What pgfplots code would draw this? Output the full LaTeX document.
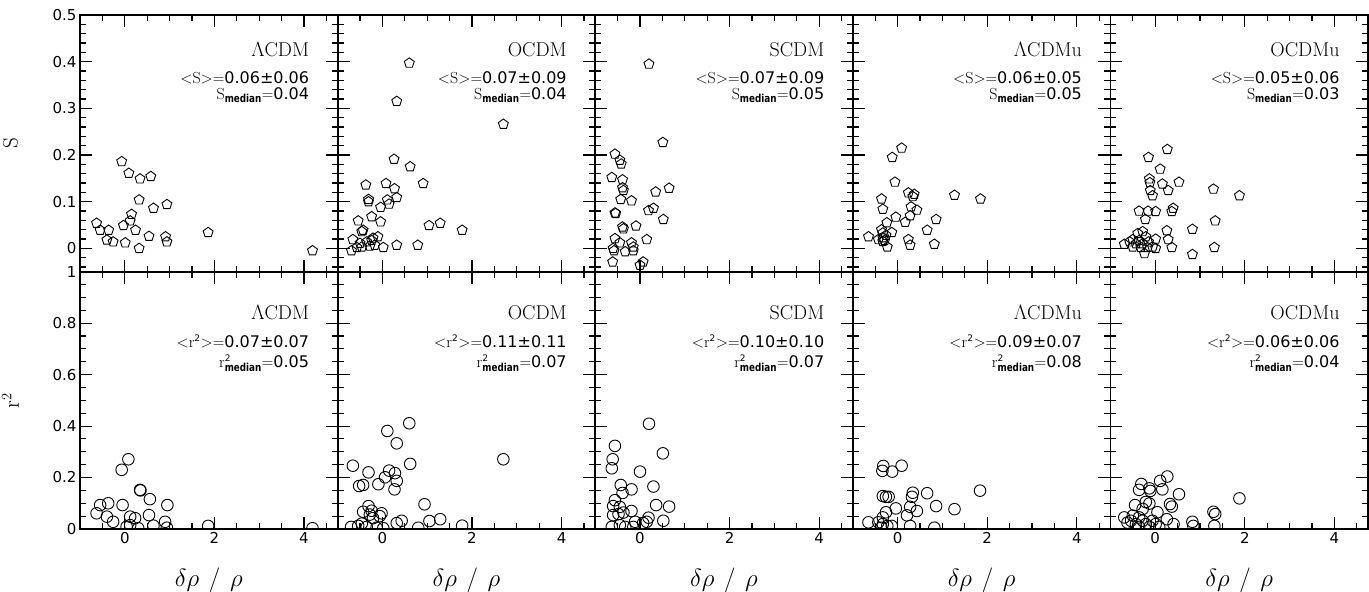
\documentclass[border=0pt]{standalone}
\usepackage{fontspec}
\setsansfont{DejaVu Sans}
\usepackage{graphicx}
\usepackage{pgfplots}
\pgfplotsset{compat=1.18}
\newcommand{\med}{\mbox{\scalebox{0.8}[1]{\sffamily\bfseries\fontsize{11}{11}\selectfont median}}}
\newcommand{\two}{\mbox{\sffamily\fontsize{9}{9}\selectfont 2}}
\pgfplotsset{
 panel/.style={scale only axis, width=257.6pt, anchor=south west,
  xmin=-1, xmax=4.75, xtick={0,2,4},
  minor xtick={-0.5,0.5,1,1.5,2.5,3,3.5,4.5},
  tick align=inside, major tick length=12pt, minor tick length=6pt,
  axis line style={line width=1.8pt},
  every tick/.style={black, line width=1.1pt},
  clip marker paths=true,
  tick label style={font=\sffamily\fontsize{15}{15}\selectfont},
  xticklabels={}, yticklabels={},
  xlabel style={at={(axis description cs:0.5,0)}, anchor=base, yshift=-57.7pt, font=\fontsize{23}{23}\selectfont},
  ylabel style={at={(axis description cs:-0.27,0.5)}, anchor=center},
 },
 toprow/.style={height=256.7pt, ymin=-0.05, ymax=0.5,
  ytick={0,0.1,0.2,0.3,0.4,0.5},
  minor ytick={-0.04,-0.02,0.02,0.04,0.06,0.08,0.12,0.14,0.16,0.18,0.22,0.24,0.26,0.28,0.32,0.34,0.36,0.38,0.42,0.44,0.46,0.48}},
 botrow/.style={height=257.3pt, ymin=0, ymax=1,
  ytick={0,0.2,0.4,0.6,0.8,1},
  minor ytick={0.05,0.1,0.15,0.25,0.3,0.35,0.45,0.5,0.55,0.65,0.7,0.75,0.85,0.9,0.95},
  xticklabels={\textsf{0},\textsf{2},\textsf{4}},
  xlabel={$\delta\rho\mkern7mu/\mkern7mu\rho$}},
 pent/.style={only marks, mark=pentagon, mark size=5.2pt, black, mark options={line width=0.9pt}},
 circ/.style={only marks, mark=o, mark size=5.8pt, black, mark options={line width=0.9pt}},
}
\newcommand{\nm}[1]{\node[anchor=base east, font=\fontsize{20}{20}\selectfont] at (axis description cs:0.903,0.840) {#1};}
\newcommand{\nmb}[1]{\node[anchor=base east, font=\fontsize{20}{20}\selectfont] at (axis description cs:0.903,0.815) {#1};}
\newcommand{\stS}[3]{%
 \node[anchor=base east, font=\fontsize{16}{16}\selectfont] at (axis description cs:0.903,0.735) {<S>=\textsf{#1}};
 \node[anchor=base east, font=\fontsize{16}{16}\selectfont] at (axis description cs:0.903,0.669) {$\mathrm{S}_{\med}$=\textsf{#3}};}
\newcommand{\stR}[3]{%
 \node[anchor=base east, font=\fontsize{16}{16}\selectfont] at (axis description cs:0.903,0.706) {<r$^{\two}$>=\textsf{#1}};
 \node[anchor=base east, font=\fontsize{16}{16}\selectfont] at (axis description cs:0.903,0.628) {$\mathrm{r}^{\two}_{\med}$=\textsf{#3}};}
\begin{document}
\begin{tikzpicture}
% ---------- top row ----------
\begin{axis}[panel, toprow, at={(80pt,320.3pt)},
  yticklabels={\textsf{0},\textsf{0.1},\textsf{0.2},\textsf{0.3},\textsf{0.4},\textsf{0.5}},
  ylabel={\fontsize{21}{21}\selectfont S}]
\addplot[pent] coordinates {(-0.07,0.186)(0.09,0.161)(0.34,0.149)(0.58,0.154)(0.32,0.104)(0.64,0.086)(0.94,0.094)(0.15,0.073)(0.12,0.059)(-0.03,0.049)(-0.63,0.054)(-0.55,0.039)(-0.36,0.039)(0.24,0.039)(-0.40,0.018)(-0.26,0.014)(0.01,0.012)(0.54,0.026)(0.91,0.025)(0.94,0.014)(0.32,0.0)(1.86,0.034)(4.19,-0.005)};
\nm{$\Lambda$CDM}\stS{0.06±0.06}{}{0.04}
\end{axis}
\begin{axis}[panel, toprow, at={(337.6pt,320.3pt)}]
\addplot[pent] coordinates {(0.60,0.397)(0.32,0.315)(2.70,0.266)(0.26,0.191)(0.62,0.175)(0.91,0.139)(-0.37,0.136)(0.08,0.139)(0.27,0.128)(0.32,0.109)(-0.31,0.105)(-0.31,0.100)(0.11,0.104)(0.15,0.095)(-0.04,0.088)(-0.24,0.068)(-0.04,0.057)(-0.54,0.059)(-0.43,0.039)(-0.46,0.036)(1.04,0.049)(1.29,0.054)(1.78,0.039)(-0.66,0.019)(-0.50,0.011)(-0.35,0.014)(-0.24,0.017)(-0.10,0.025)(-0.17,0.007)(-0.28,0.005)(-0.57,0.002)(-0.69,-0.005)(0.02,0.002)(0.32,0.007)(0.79,0.007)(-0.46,0.003)(-0.21,0.022)};
\nm{OCDM}\stS{0.07±0.09}{}{0.04}
\end{axis}
\begin{axis}[panel, toprow, at={(595.2pt,320.3pt)}]
\addplot[pent] coordinates {(0.20,0.395)(0.51,0.227)(-0.56,0.202)(-0.45,0.189)(-0.42,0.181)(-0.63,0.152)(-0.39,0.147)(-0.39,0.130)(-0.37,0.124)(0.65,0.129)(0.35,0.121)(-0.19,0.102)(-0.43,0.105)(0.30,0.086)(0.19,0.081)(0.52,0.062)(-0.56,0.076)(-0.54,0.075)(-0.09,0.048)(-0.39,0.046)(-0.37,0.042)(0.15,0.019)(-0.56,0.021)(-0.45,0.012)(-0.19,0.012)(-0.15,0.003)(-0.60,0.000)(-0.58,-0.005)(-0.33,-0.007)(-0.15,-0.005)(-0.61,-0.029)(0.07,-0.029)(0.0,-0.036)};
\nm{SCDM}\stS{0.07±0.09}{}{0.05}
\end{axis}
\begin{axis}[panel, toprow, at={(852.8pt,320.3pt)}]
\addplot[pent] coordinates {(0.09,0.215)(-0.12,0.195)(-0.06,0.142)(0.24,0.119)(0.37,0.116)(0.34,0.111)(1.27,0.114)(1.85,0.106)(-0.36,0.106)(-0.33,0.084)(0.30,0.089)(0.43,0.082)(0.28,0.070)(-0.04,0.067)(0.17,0.056)(-0.24,0.055)(0.86,0.062)(0.66,0.039)(-0.13,0.034)(-0.36,0.040)(-0.33,0.033)(-0.65,0.025)(-0.43,0.019)(-0.33,0.023)(-0.29,0.017)(0.24,0.019)(0.28,0.007)(0.82,0.009)(-0.23,0.003)(-0.33,0.015)(-0.26,0.028)};
\nm{$\Lambda$CDMu}\stS{0.06±0.05}{}{0.05}
\end{axis}
\begin{axis}[panel, toprow, at={(1110.4pt,320.3pt)}]
\addplot[pent] coordinates {(0.27,0.212)(-0.15,0.195)(0.11,0.170)(-0.13,0.149)(-0.12,0.141)(0.16,0.138)(0.53,0.142)(0.29,0.124)(-0.11,0.124)(-0.06,0.113)(1.30,0.127)(1.88,0.113)(-0.36,0.080)(-0.16,0.080)(0.01,0.079)(0.40,0.086)(0.37,0.079)(-0.22,0.062)(1.34,0.059)(0.83,0.041)(0.26,0.038)(0.29,0.019)(-0.69,0.009)(-0.50,0.019)(-0.39,0.032)(-0.28,0.036)(-0.21,0.025)(-0.36,0.017)(-0.43,0.010)(-0.28,0.010)(-0.15,0.014)(0.01,0.020)(0.01,0.000)(-0.06,0.003)(-0.24,-0.011)(0.37,0.002)(0.83,-0.013)(1.32,0.002)(-0.50,0.003)(-0.32,0.002)(-0.57,0.014)(-0.17,0.002)};
\nm{OCDMu}\stS{0.05±0.06}{}{0.03}
\end{axis}
% ---------- bottom row ----------
\begin{axis}[panel, botrow, at={(80pt,63pt)},
  yticklabels={\textsf{0},\textsf{0.2},\textsf{0.4},\textsf{0.6},\textsf{0.8},\textsf{1}},
  ylabel={\fontsize{22}{22}\selectfont $\mathrm{r}^2$}]
\addplot[circ] coordinates {(0.08,0.271)(-0.07,0.230)(0.34,0.152)(0.35,0.150)(0.56,0.116)(0.95,0.093)(-0.05,0.093)(-0.55,0.093)(-0.37,0.100)(-0.63,0.061)(-0.40,0.048)(-0.26,0.028)(0.12,0.048)(0.23,0.042)(0.54,0.054)(0.90,0.028)(0.04,0.009)(0.30,0.003)(0.64,0.013)(0.94,0.005)(1.86,0.012)(4.19,0.003)(0.12,0.015)};
\nmb{$\Lambda$CDM}\stR{0.07±0.07}{}{0.05}
\end{axis}
\begin{axis}[panel, botrow, at={(337.6pt,63pt)}]
\addplot[circ] coordinates {(0.60,0.411)(0.11,0.381)(0.32,0.333)(2.70,0.271)(0.62,0.253)(-0.66,0.246)(-0.31,0.220)(0.15,0.227)(0.28,0.217)(0.06,0.201)(0.32,0.187)(-0.09,0.174)(-0.52,0.167)(-0.43,0.171)(0.27,0.154)(0.94,0.096)(-0.31,0.089)(-0.43,0.067)(-0.24,0.071)(-0.02,0.061)(-0.21,0.042)(1.05,0.031)(1.29,0.038)(0.32,0.023)(0.43,0.032)(1.78,0.013)(0.80,0.005)(-0.70,0.008)(-0.54,0.012)(-0.46,0.021)(-0.35,0.008)(-0.13,0.005)(0.02,0.003)(-0.28,0.056)(-0.06,0.050)};
\nmb{OCDM}\stR{0.11±0.11}{}{0.07}
\end{axis}
\begin{axis}[panel, botrow, at={(595.2pt,63pt)}]
\addplot[circ] coordinates {(0.20,0.409)(-0.56,0.323)(0.51,0.294)(-0.61,0.271)(-0.63,0.236)(0.0,0.223)(-0.43,0.171)(0.30,0.165)(-0.19,0.154)(-0.39,0.140)(-0.56,0.112)(0.36,0.093)(0.65,0.087)(-0.60,0.089)(-0.45,0.086)(-0.19,0.070)(-0.37,0.064)(0.19,0.044)(0.52,0.032)(-0.60,0.054)(-0.48,0.058)(-0.11,0.028)(0.07,0.023)(0.15,0.028)(-0.63,0.008)(-0.33,0.008)(-0.15,0.008)(-0.45,0.015)};
\nmb{SCDM}\stR{0.10±0.10}{}{0.07}
\end{axis}
\begin{axis}[panel, botrow, at={(852.8pt,63pt)}]
\addplot[circ] coordinates {(0.09,0.246)(-0.32,0.245)(-0.34,0.226)(-0.12,0.223)(1.84,0.149)(0.66,0.139)(0.34,0.141)(-0.33,0.128)(-0.26,0.125)(-0.20,0.125)(0.32,0.125)(0.86,0.089)(0.28,0.086)(-0.04,0.080)(1.27,0.077)(0.43,0.070)(0.21,0.053)(-0.26,0.065)(-0.33,0.045)(-0.65,0.026)(-0.43,0.026)(-0.33,0.019)(-0.23,0.012)(0.28,0.012)(0.82,0.005)(-0.36,0.005)(-0.13,0.012)};
\nmb{$\Lambda$CDMu}\stR{0.09±0.07}{}{0.08}
\end{axis}
\begin{axis}[panel, botrow, at={(1110.4pt,63pt)}]
\addplot[circ] coordinates {(0.27,0.204)(0.11,0.187)(-0.31,0.175)(-0.36,0.152)(-0.13,0.158)(-0.11,0.148)(0.16,0.154)(0.53,0.135)(1.88,0.119)(-0.21,0.105)(-0.13,0.099)(-0.45,0.093)(0.33,0.097)(0.37,0.087)(-0.28,0.078)(0.05,0.065)(1.30,0.067)(1.34,0.058)(-0.69,0.045)(-0.50,0.052)(-0.36,0.045)(-0.54,0.032)(-0.28,0.032)(-0.06,0.032)(0.26,0.038)(0.83,0.028)(-0.43,0.019)(-0.21,0.019)(0.01,0.019)(0.85,0.012)(1.32,0.012)(0.41,0.019)(-0.62,0.025)(-0.36,0.008)(-0.13,0.008)(0.09,0.008)};
\nmb{OCDMu}\stR{0.06±0.06}{}{0.04}
\end{axis}
\pgfresetboundingbox
\path[use as bounding box] (0pt,0pt) rectangle (1369pt,592pt);
\end{tikzpicture}
\end{document}
